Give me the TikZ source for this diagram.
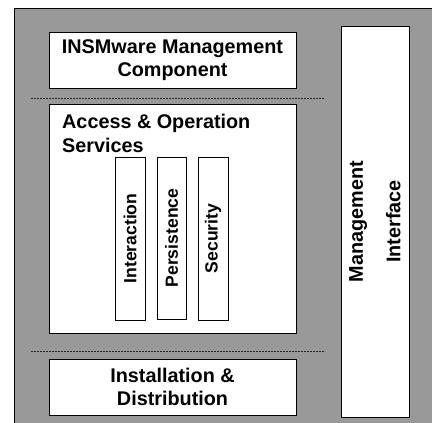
\documentclass[tikz,border=0pt]{standalone}
\usepackage{fontspec}
\setmainfont{Liberation Sans}
\definecolor{bggray}{RGB}{153,153,153}
\begin{document}
\begin{tikzpicture}[x=1pt,y=-1pt,
  box/.style={draw=black, fill=white, line width=1pt, inner sep=0pt},
  bigtxt/.style={font=\fontsize{19.8}{23.5}\selectfont\bfseries, align=center, inner sep=0pt},
  smalltxt/.style={font=\fontsize{17.6}{20}\selectfont\bfseries, inner sep=0pt},
  sep/.style={draw=black!85, line width=0.8pt, dash pattern=on 2pt off 1pt}]
\useasboundingbox (0,0) rectangle (432,423);
% background panel
\fill[bggray] (14,8) rectangle (440,430);
\draw[line width=1pt] (14,430) -- (14,8) -- (440,8);
% top component
\node[box, minimum width=247pt, minimum height=56pt] (mgmt) at (172.5,60) {};
\node[bigtxt] (mgmtt) at (mgmt.center) {INSMware Management\\Component};
% separators
\coordinate (s1a) at (31,98); \coordinate (s1b) at (325,98);
\coordinate (s2a) at (31,351); \coordinate (s2b) at (325,351);
\draw[sep] (s1a) -- (s1b);
\draw[sep] (s2a) -- (s2b);
% access & operation services
\node[box, minimum width=247pt, minimum height=229pt] (aos) at (172.5,218.5) {};
\node[bigtxt, align=left, anchor=north west] (aost) at (62,114) {Access \& Operation\\Services};
\node[box, minimum width=30pt, minimum height=163pt] (inter) at (130,238.5) {};
\node[smalltxt, rotate=90] (intert) at (inter.center) {Interaction};
\node[box, minimum width=29pt, minimum height=162pt] (pers) at (171.5,238) {};
\node[smalltxt, rotate=90] (perst) at (pers.center) {Persistence};
\node[box, minimum width=30pt, minimum height=163pt] (sec) at (213,238.5) {};
\node[smalltxt, rotate=90] (sect) at (sec.center) {Security};
% installation
\node[box, minimum width=247pt, minimum height=56pt] (inst) at (172.5,387) {};
\node[bigtxt] (instt) at (inst.center) {Installation \&\\Distribution};
% management interface
\node[box, minimum width=68pt, minimum height=391pt] (mi) at (375,221.5) {};
\node[bigtxt, rotate=90] (mit) at (mi.center) {Management\\[14pt]Interface};
\end{tikzpicture}
\end{document}
